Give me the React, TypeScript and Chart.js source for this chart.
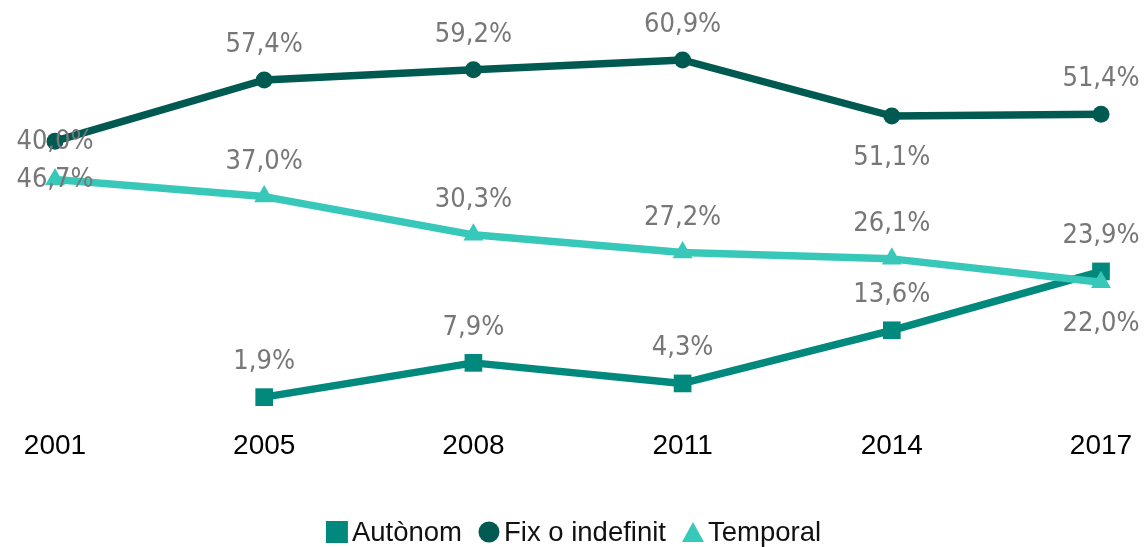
import React, { useEffect, useRef } from "react";
import { Chart, registerables } from "chart.js";

Chart.register(...registerables);

const years = ["2001", "2005", "2008", "2011", "2014", "2017"];
const autonomValues: (number | null)[] = [null, 1.9, 7.9, 4.3, 13.6, 23.9];
const fixValues: (number | null)[] = [46.7, 57.4, 59.2, 60.9, 51.1, 51.4];
const temporalValues: (number | null)[] = [40.0, 37.0, 30.3, 27.2, 26.1, 22.0];

const autonomLabels = ["", "1,9%", "7,9%", "4,3%", "13,6%", "23,9%"];
const fixLabels = ["40,0%", "57,4%", "59,2%", "60,9%", "51,1%", "51,4%"];
const temporalLabels = ["46,7%", "37,0%", "30,3%", "27,2%", "26,1%", "22,0%"];

const autonomPlacement = ["above", "above", "above", "above", "above", "above"];
const fixPlacement = ["center", "above", "above", "above", "below", "above"];
const temporalPlacement = ["center", "above", "above", "above", "above", "below"];

const seriesNames = ["Autònom", "Fix o indefinit", "Temporal"];
const COL_AUT = "#00897c";
const COL_FIX = "#005a51";
const COL_TEMP = "#38c8b9";

const labelTexts = [autonomLabels, fixLabels, temporalLabels];
const labelPlacements = [autonomPlacement, fixPlacement, temporalPlacement];

const dataLabelPlugin = {
  id: "dataLabels",
  afterDatasetsDraw(chart: any) {
    const ctx = chart.ctx;
    ctx.save();
    ctx.font = '27px "DejaVu Sans Condensed", "DejaVu Sans", sans-serif';
    ctx.fillStyle = "#777777";
    ctx.textAlign = "center";
    ctx.textBaseline = "middle";
    chart.data.datasets.forEach((ds: any, di: number) => {
      const meta = chart.getDatasetMeta(di);
      meta.data.forEach((pt: any, i: number) => {
        const v = ds.data[i];
        if (v === null || v === undefined) return;
        const txt = labelTexts[di][i];
        const pl = labelPlacements[di][i];
        let dy = 1;
        if (pl === "above") dy = -35;
        else if (pl === "below") dy = 42;
        ctx.fillText(txt, pt.x, pt.y + dy);
      });
    });
    ctx.restore();
  },
};

const legendPlugin = {
  id: "customLegend",
  afterDraw(chart: any) {
    const ctx = chart.ctx;
    ctx.save();
    ctx.font = '27.5px "Liberation Sans", Arial, sans-serif';
    ctx.textBaseline = "middle";
    const cols = [COL_AUT, COL_FIX, COL_TEMP];
    const marker = 22;
    const gap = 4;
    const itemGap = 16;
    const widths = seriesNames.map((n) => marker + gap + ctx.measureText(n).width);
    const total = widths.reduce((a, b) => a + b, 0) + itemGap * (widths.length - 1);
    let x = chart.width / 2 - total / 2 + 1;
    const cy = 532;
    seriesNames.forEach((name, i) => {
      ctx.fillStyle = cols[i];
      if (i === 0) {
        ctx.fillRect(x, cy - 11, 22, 22);
      } else if (i === 1) {
        ctx.beginPath();
        ctx.arc(x + 11, cy, 10.5, 0, Math.PI * 2);
        ctx.fill();
      } else {
        ctx.beginPath();
        ctx.moveTo(x + 11, cy - 10);
        ctx.lineTo(x + 22, cy + 10);
        ctx.lineTo(x, cy + 10);
        ctx.closePath();
        ctx.fill();
      }
      ctx.fillStyle = "#111111";
      ctx.textAlign = "left";
      ctx.fillText(name, x + marker + gap, cy + 1);
      x += widths[i] + itemGap;
    });
    ctx.restore();
  },
};

export default function App() {
  const ref = useRef<HTMLCanvasElement | null>(null);
  useEffect(() => {
    if (!ref.current) return;
    const chart = new Chart(ref.current, {
      type: "line",
      data: {
        labels: years,
        datasets: [
          {
            label: seriesNames[0],
            data: autonomValues,
            borderColor: COL_AUT,
            backgroundColor: COL_AUT,
            borderWidth: 7.5,
            pointStyle: "rect",
            pointRadius: 12.5,
            pointBorderWidth: 0,
            tension: 0,
            order: 2,
            borderJoinStyle: "round",
          },
          {
            label: seriesNames[1],
            data: fixValues,
            borderColor: COL_FIX,
            backgroundColor: COL_FIX,
            borderWidth: 7.5,
            pointStyle: "circle",
            pointRadius: 8.5,
            pointBorderWidth: 0,
            tension: 0,
            order: 1,
            borderJoinStyle: "round",
          },
          {
            label: seriesNames[2],
            data: temporalValues,
            borderColor: COL_TEMP,
            backgroundColor: COL_TEMP,
            borderWidth: 7.5,
            pointStyle: "triangle",
            pointRadius: 11.5,
            pointBorderWidth: 0,
            tension: 0,
            order: 0,
            borderJoinStyle: "round",
          },
        ],
      },
      options: {
        responsive: true,
        maintainAspectRatio: false,
        animation: false,
        clip: false,
        layout: { autoPadding: false, padding: { left: 55, right: 44, top: 8, bottom: 0 } },
        plugins: {
          legend: { display: false },
          tooltip: { enabled: false },
        },
        scales: {
          x: {
            type: "category",
            offset: false,
            grid: { display: false, drawTicks: false },
            border: { display: false },
            ticks: {
              color: "#000000",
              padding: 21,
              autoSkip: false,
              maxRotation: 0,
              font: { family: '"Liberation Sans", Arial, sans-serif', size: 28 },
            },
            afterFit: (scale: any) => {
              scale.height = 139;
              scale.paddingLeft = 0;
              scale.paddingRight = 0;
            },
          },
          y: {
            display: false,
            min: 0,
            max: 70,
          },
        },
      },
      plugins: [dataLabelPlugin, legendPlugin],
    });
    return () => chart.destroy();
  }, []);
  return (
    <div style={{ position: "fixed", left: 0, top: 0, width: 1145, height: 547, background: "#fff" }}>
      <canvas ref={ref} />
    </div>
  );
}
